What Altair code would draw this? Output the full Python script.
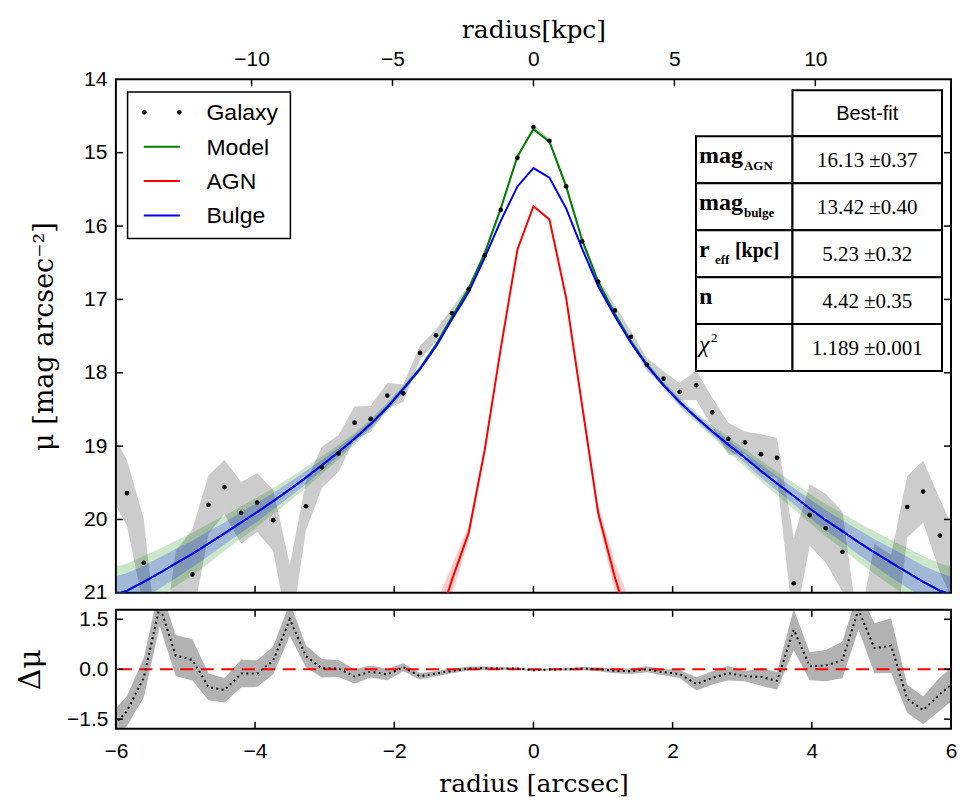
import altair as alt
import pandas as pd

# ---------------- data ----------------
radius = [-6.07, -5.84, -5.60, -5.37, -5.14, -4.90, -4.67, -4.44, -4.20, -3.97,
          -3.74, -3.50, -3.27, -3.04, -2.80, -2.57, -2.34, -2.10, -1.87, -1.63,
          -1.40, -1.17, -0.93, -0.70, -0.47, -0.23, 0.00, 0.23, 0.47, 0.70,
          0.93, 1.17, 1.40, 1.63, 1.87, 2.10, 2.34, 2.57, 2.80, 3.04,
          3.27, 3.50, 3.74, 3.97, 4.20, 4.44, 4.67, 4.90, 5.14, 5.37,
          5.60, 5.84, 6.07]

galaxy_mu = [19.24, 19.64, 20.59, 22.60, 21.05, 20.75, 19.80, 19.56, 19.91, 19.77,
             20.01, 21.12, 19.82, 19.29, 19.10, 18.68, 18.63, 18.31, 18.28, 17.73,
             17.49, 17.19, 16.86, 16.40, 15.78, 15.07, 14.65, 14.84, 15.46, 16.21,
             16.76, 17.15, 17.51, 17.89, 18.08, 18.26, 18.17, 18.54, 18.90, 18.95,
             19.11, 19.16, 20.87, 19.94, 20.12, 20.44, 22.10, 21.08, 21.30, 19.83,
             19.62, 20.22, 20.70]

galaxy_err = [0.45, 0.45, 0.60, 0.60, 0.62, 0.62, 0.40, 0.37, 0.42, 0.40,
              0.42, 0.50, 0.33, 0.28, 0.25, 0.22, 0.18, 0.17, 0.12, 0.10,
              0.08, 0.07, 0.06, 0.05, 0.04, 0.03, 0.03, 0.03, 0.04, 0.05,
              0.06, 0.07, 0.08, 0.09, 0.10, 0.12, 0.20, 0.20, 0.22, 0.15,
              0.27, 0.27, 0.62, 0.42, 0.47, 0.55, 0.60, 0.75, 0.82, 0.42,
              0.42, 0.50, 0.50]

model_mu = [21.05, 20.97, 20.85, 20.73, 20.60, 20.47, 20.33, 20.19, 20.04, 19.90,
            19.75, 19.59, 19.43, 19.26, 19.08, 18.90, 18.70, 18.47, 18.22, 17.94,
            17.62, 17.24, 16.85, 16.37, 15.76, 15.05, 14.68, 14.85, 15.46, 16.19,
            16.76, 17.20, 17.57, 17.89, 18.17, 18.40, 18.61, 18.80, 18.98, 19.16,
            19.34, 19.51, 19.68, 19.85, 20.01, 20.16, 20.31, 20.45, 20.59, 20.72,
            20.85, 20.97, 21.05]

model_err = [0.39, 0.37, 0.35, 0.33, 0.31, 0.29, 0.27, 0.24, 0.22, 0.20,
             0.18, 0.16, 0.14, 0.12, 0.10, 0.08, 0.07, 0.06, 0.05, 0.04,
             0.04, 0.03, 0.03, 0.03, 0.02, 0.02, 0.02, 0.02, 0.02, 0.03,
             0.03, 0.03, 0.04, 0.04, 0.05, 0.06, 0.07, 0.08, 0.10, 0.12,
             0.14, 0.16, 0.18, 0.20, 0.22, 0.24, 0.27, 0.29, 0.31, 0.33,
             0.35, 0.37, 0.39]

bulge_mu = [21.05, 20.97, 20.85, 20.73, 20.60, 20.47, 20.33, 20.19, 20.04, 19.90,
            19.75, 19.59, 19.43, 19.26, 19.08, 18.90, 18.70, 18.47, 18.22, 17.95,
            17.64, 17.27, 16.90, 16.43, 15.93, 15.46, 15.21, 15.34, 15.76, 16.31,
            16.82, 17.23, 17.59, 17.90, 18.17, 18.40, 18.61, 18.80, 18.98, 19.16,
            19.34, 19.51, 19.68, 19.85, 20.01, 20.16, 20.31, 20.45, 20.59, 20.72,
            20.85, 20.97, 21.05]

bulge_err = [0.25, 0.24, 0.22, 0.21, 0.20, 0.18, 0.17, 0.15, 0.14, 0.13,
             0.11, 0.10, 0.09, 0.07, 0.06, 0.05, 0.04, 0.04, 0.03, 0.03,
             0.02, 0.02, 0.02, 0.02, 0.01, 0.01, 0.01, 0.01, 0.01, 0.02,
             0.02, 0.02, 0.02, 0.03, 0.03, 0.04, 0.04, 0.05, 0.06, 0.07,
             0.09, 0.10, 0.11, 0.13, 0.14, 0.15, 0.17, 0.18, 0.20, 0.21,
             0.22, 0.24, 0.25]

agn_radius = [-1.40, -1.17, -0.93, -0.70, -0.47, -0.23, 0.00, 0.23, 0.47, 0.70, 0.93, 1.17, 1.40]
agn_mu = [21.50, 20.82, 20.18, 19.05, 17.67, 16.32, 15.73, 15.91, 16.98, 18.45, 19.91, 20.79, 21.50]
agn_err = [0.35, 0.20, 0.10, 0.05, 0.03, 0.02, 0.01, 0.02, 0.03, 0.05, 0.10, 0.20, 0.35]

residual = [-1.79, -1.25, -0.26, 1.90, 0.41, 0.28, -0.53, -0.63, -0.13, -0.13,
            0.26, 1.50, 0.39, 0.03, 0.02, -0.22, -0.07, -0.16, 0.06, -0.21,
            -0.13, -0.05, 0.02, 0.03, 0.02, 0.02, -0.03, -0.01, 0.00, 0.02,
            0.00, -0.05, -0.06, 0.00, -0.09, -0.14, -0.44, -0.26, -0.12, -0.21,
            -0.23, -0.35, 1.19, 0.09, 0.11, 0.28, 1.79, 0.63, 0.71, -0.89,
            -1.23, -0.75, -0.35]
zero_line = [0.0]

x_tick_values = [-6, -4, -2, 0, 2, 4, 6]
x_inner_ticks = [-4, -2, 0, 2, 4]
kpc_tick_values = [-10, -5, 0, 5, 10]
kpc_per_arcsec = 2.469
mu_tick_values = [14, 15, 16, 17, 18, 19, 20, 21]
mu_inner_ticks = [15, 16, 17, 18, 19, 20]
res_tick_values = [-1.5, 0.0, 1.5]

series_names = ["Galaxy", "Model", "AGN", "Bulge"]
series_colors = ["black", "green", "red", "blue"]

table_header = "Best-fit"
table_main = ["mag", "mag", "r", "n", "χ"]
table_sub = ["AGN", "bulge", "eff", "", ""]
table_tail = ["", "", "[kpc]", "", ""]
table_sup = ["", "", "", "", "2"]
table_values = ["16.13 ±0.37", "13.42 ±0.40", "5.23 ±0.32", "4.42 ±0.35", "1.189 ±0.001"]

# ---------------- frames ----------------
main_df = pd.DataFrame({"r": radius, "galaxy": galaxy_mu, "gerr": galaxy_err,
                        "model": model_mu, "merr": model_err,
                        "bulge": bulge_mu, "berr": bulge_err, "resid": residual})
main_df["g_lo"] = main_df["galaxy"] - main_df["gerr"]
main_df["g_hi"] = main_df["galaxy"] + main_df["gerr"]
main_df["m_lo"] = main_df["model"] - main_df["merr"]
main_df["m_hi"] = main_df["model"] + main_df["merr"]
main_df["b_lo"] = main_df["bulge"] - main_df["berr"]
main_df["b_hi"] = main_df["bulge"] + main_df["berr"]
main_df["r_lo"] = main_df["resid"] - main_df["gerr"]
main_df["r_hi"] = main_df["resid"] + main_df["gerr"]

agn_df = pd.DataFrame({"r": agn_radius, "agn": agn_mu, "aerr": agn_err})
agn_df["a_lo"] = agn_df["agn"] - agn_df["aerr"]
agn_df["a_hi"] = agn_df["agn"] + agn_df["aerr"]

one = pd.DataFrame({"d": [0]})

# ---------------- layout constants ----------------
W, H1, H2 = 836, 514, 119
SANS = "Liberation Sans"
SERIF = "DejaVu Serif"
TSERIF = "Liberation Serif"
TICK = 7

xscale = alt.Scale(domain=[-6, 6], nice=False, zero=False)
yscale = alt.Scale(domain=[14, 21], reverse=True, nice=False, zero=False)
rscale = alt.Scale(domain=[-1.785, 1.785], nice=False, zero=False)
K = 6 * kpc_per_arcsec
kscale = alt.Scale(domain=[-K, K], nice=False, zero=False)

y_axis_main = alt.Axis(values=mu_tick_values, format="d", ticks=False, tickSize=0, domain=False,
                       grid=False, labelFont=SANS, labelFontSize=21, labelColor="black",
                       labelPadding=9, title="μ [mag arcsec⁻²]", titleFont=SERIF,
                       titleFontSize=27, titleFontWeight="normal", titleColor="black",
                       titleX=-63, titleY=H1 / 2, titleBaseline="alphabetic")
kpc_axis = alt.Axis(orient="top", values=kpc_tick_values, format="d", ticks=False, tickSize=0,
                    domain=False, grid=False, labelFont=SANS, labelFontSize=21,
                    labelColor="black", labelPadding=14, labelBaseline="alphabetic",
                    labelFlush=False, title="radius[kpc]", titleFont=SERIF, titleFontSize=25,
                    titleFontWeight="normal", titleColor="black", titleY=-42,
                    titleBaseline="alphabetic")
x_axis_bottom = alt.Axis(values=x_tick_values, format="d", ticks=False, tickSize=0, domain=False,
                         grid=False, labelFont=SANS, labelFontSize=21, labelColor="black",
                         labelPadding=29, labelBaseline="alphabetic", labelFlush=False,
                         title="radius [arcsec]", titleFont=SERIF, titleFontSize=25,
                         titleFontWeight="normal", titleColor="black", titleY=63,
                         titleBaseline="alphabetic")
y_axis_res = alt.Axis(values=res_tick_values, format=".1f", ticks=False, tickSize=0, domain=False,
                      grid=False, labelFont=SANS, labelFontSize=21, labelColor="black",
                      labelPadding=8, title="Δμ", titleFont=SERIF, titleFontSize=30,
                      titleFontWeight="normal", titleColor="black", titleX=-76,
                      titleY=H2 / 2, titleBaseline="alphabetic")


def X(f):
    return alt.X(f"{f}:Q", scale=xscale, axis=None)


def Y(f):
    return alt.Y(f"{f}:Q", scale=yscale, axis=y_axis_main)


def XR(f):
    return alt.X(f"{f}:Q", scale=xscale, axis=x_axis_bottom)


def YR(f):
    return alt.Y(f"{f}:Q", scale=rscale, axis=y_axis_res)


def vtext(x, y, s, size, font, weight="normal", style="normal", align="left"):
    return alt.Chart(one).mark_text(text=s, font=font, fontSize=size, fontWeight=weight,
                                    fontStyle=style, align=align, baseline="alphabetic",
                                    color="black").encode(x=alt.value(x), y=alt.value(y))


def vrect(x1, x2, y1, y2, sw=2.0):
    return alt.Chart(one).mark_rect(fill="white", stroke="black", strokeWidth=sw).encode(
        x=alt.value(x1), x2=alt.value(x2), y=alt.value(y1), y2=alt.value(y2))


# ---------------- main panel ----------------
layers = []
layers.append(alt.Chart(main_df).mark_area(color="black", opacity=0.2, clip=True)
              .encode(x=X("r"), y=Y("g_lo"), y2="g_hi"))
layers.append(alt.Chart(main_df).mark_area(color="green", opacity=0.2, clip=True)
              .encode(x=X("r"), y=Y("m_lo"), y2="m_hi"))
layers.append(alt.Chart(main_df).mark_area(color="blue", opacity=0.2, clip=True)
              .encode(x=X("r"), y=Y("b_lo"), y2="b_hi"))
layers.append(alt.Chart(agn_df).mark_area(color="red", opacity=0.2, clip=True)
              .encode(x=X("r"), y=Y("a_lo"), y2="a_hi"))
layers.append(alt.Chart(main_df).mark_line(color="green", strokeWidth=2, clip=True)
              .encode(x=X("r"), y=Y("model")))
layers.append(alt.Chart(agn_df).mark_line(color="red", strokeWidth=2, clip=True)
              .encode(x=X("r"), y=Y("agn")))
layers.append(alt.Chart(main_df).mark_line(color="blue", strokeWidth=2, clip=True)
              .encode(x=X("r"), y=Y("bulge")))
layers.append(alt.Chart(main_df).mark_circle(color="black", size=22, opacity=1, clip=True)
              .encode(x=X("r"), y=Y("galaxy")))

mu_ticks_df = pd.DataFrame({"v": mu_inner_ticks})
xt_df = pd.DataFrame({"v": x_inner_ticks})
layers.append(alt.Chart(mu_ticks_df).mark_rule(color="black", strokeWidth=1.5)
              .encode(y=Y("v"), x=alt.value(0), x2=alt.value(TICK)))
layers.append(alt.Chart(mu_ticks_df).mark_rule(color="black", strokeWidth=1.5)
              .encode(y=Y("v"), x=alt.value(W - TICK), x2=alt.value(W)))
layers.append(alt.Chart(xt_df).mark_rule(color="black", strokeWidth=1.5)
              .encode(x=X("v"), y=alt.value(H1 - TICK), y2=alt.value(H1)))

# legend
LX0, LX1, LY0, LY1 = 11.7, 174.7, 12.7, 159.3
layers.append(vrect(LX0, LX1, LY0, LY1, sw=1.5))
for i, (name, col) in enumerate(zip(series_names, series_colors)):
    yy = 33 + 34.4 * i
    if name == "Galaxy":
        for xx in (28.5, 63.5):
            layers.append(alt.Chart(one).mark_circle(color=col, size=22, opacity=1)
                          .encode(x=alt.value(xx), y=alt.value(yy)))
    else:
        layers.append(alt.Chart(one).mark_rule(color=col, strokeWidth=2)
                      .encode(x=alt.value(28), x2=alt.value(64), y=alt.value(yy)))
    layers.append(vtext(90.7, yy + 8, name, 23, SANS))

# table
TX0, TX1, TX2 = 580.7, 677.3, 827.0
TY_H, TY0, ROW = 11.0, 57.0, 47.0
layers.append(vrect(TX1, TX2, TY_H, TY0))
layers.append(vtext((TX1 + TX2) / 2, (TY_H + TY0) / 2 + 7, table_header, 20, SANS, align="center"))
for i in range(len(table_values)):
    y0 = TY0 + ROW * i
    c = y0 + ROW / 2
    layers.append(vrect(TX0, TX1, y0, y0 + ROW))
    layers.append(vrect(TX1, TX2, y0, y0 + ROW))
    layers.append(vtext((TX1 + TX2) / 2, c + 7, table_values[i], 21, TSERIF, align="center"))
    main_txt = table_main[i]
    if main_txt == "χ":
        layers.append(vtext(TX0 + 3, c + 4, main_txt, 24, TSERIF, style="italic"))
    else:
        layers.append(vtext(TX0 + 3, c + 3, main_txt, 24, TSERIF, weight="bold"))
    if table_sub[i]:
        sx = TX0 + 48 if main_txt == "mag" else TX0 + 19
        layers.append(vtext(sx, c + 10, table_sub[i], 13, TSERIF, weight="bold"))
    if table_tail[i]:
        layers.append(vtext(TX0 + 39, c + 3, table_tail[i], 20, TSERIF, weight="bold"))
    if table_sup[i]:
        layers.append(vtext(TX0 + 15, c - 6, table_sup[i], 13, TSERIF))

kpc_layer = alt.Chart(pd.DataFrame({"kpc": kpc_tick_values})).mark_rule(
    color="black", strokeWidth=1.5).encode(
    x=alt.X("kpc:Q", scale=kscale, axis=kpc_axis), y=alt.value(0), y2=alt.value(TICK))

main = alt.layer(alt.layer(*layers), kpc_layer).resolve_scale(x="independent").properties(
    width=W, height=H1)

# ---------------- residual panel ----------------
res_tick_df = pd.DataFrame({"v": res_tick_values})
rlayers = [
    alt.Chart(main_df).mark_area(color="black", opacity=0.3, clip=True)
    .encode(x=XR("r"), y=YR("r_lo"), y2="r_hi"),
    alt.Chart(pd.DataFrame({"z": zero_line})).mark_rule(color="red", strokeWidth=2,
                                                        strokeDash=[13, 7.5])
    .encode(y=YR("z")),
    alt.Chart(main_df).mark_line(color="black", strokeWidth=2, strokeDash=[2, 3.3], clip=True)
    .encode(x=XR("r"), y=YR("resid")),
    alt.Chart(res_tick_df).mark_rule(color="black", strokeWidth=1.5)
    .encode(y=YR("v"), x=alt.value(0), x2=alt.value(TICK)),
    alt.Chart(res_tick_df).mark_rule(color="black", strokeWidth=1.5)
    .encode(y=YR("v"), x=alt.value(W - TICK), x2=alt.value(W)),
    alt.Chart(xt_df).mark_rule(color="black", strokeWidth=1.5)
    .encode(x=XR("v"), y=alt.value(0), y2=alt.value(TICK)),
    alt.Chart(xt_df).mark_rule(color="black", strokeWidth=1.5)
    .encode(x=XR("v"), y=alt.value(H2 - TICK), y2=alt.value(H2)),
]
resid = alt.layer(*rlayers).properties(width=W, height=H2)

chart = alt.vconcat(main, resid, spacing=3).properties(
    padding={"left": 7, "top": 8, "right": 0, "bottom": 0}
).configure(background="white").configure_view(stroke="black", strokeWidth=2)

chart.save("out.html", embed_options={"renderer": "svg", "actions": False})
